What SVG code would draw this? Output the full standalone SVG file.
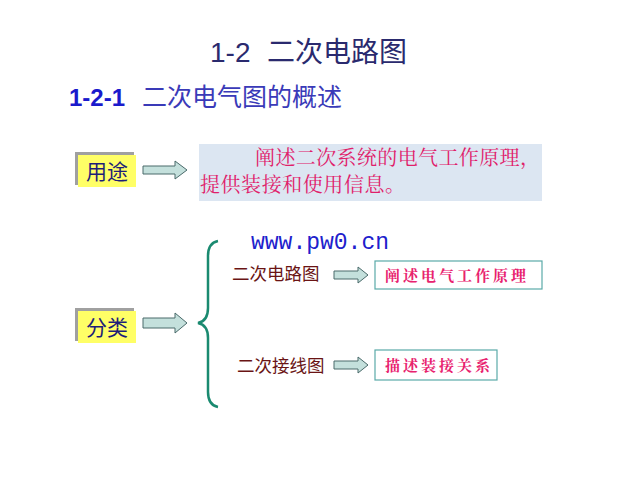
<svg xmlns="http://www.w3.org/2000/svg" width="640" height="480" viewBox="0 0 640 480">
<defs>
<style>
.cjk{font-family:"Noto Sans CJK SC","Noto Sans",sans-serif;}
.ser{font-family:"Noto Serif CJK SC","Noto Sans CJK SC",serif;}
.tag{fill:#ffff66;}
.shadow{fill:#a0a0a0;}
.arr{fill:#c4e0dc;stroke:#4a6a6a;stroke-width:1;}
.cbox{fill:#ffffff;stroke:#5aaaa8;stroke-width:1.2;}
.pink{fill:#e8226e;font-weight:bold;}
.dred{fill:#6a1414;}
</style>
</defs>
<rect width="640" height="480" fill="#ffffff"/>

<g id="title">
<text x="210" y="62" font-family="Liberation Sans,Arial,sans-serif" font-size="28" fill="#2a2a6e">1-2</text>
<text x="267" y="62" class="cjk" font-size="28" fill="#2a2a6e">二次电路图</text>
</g>
<g id="subtitle">
<text x="69" y="106" font-family="Liberation Sans,Arial,sans-serif" font-weight="bold" font-size="24" fill="#1a1acc">1-2-1</text>
<text x="142" y="106" class="cjk" font-size="25" fill="#3a3ab8">二次电气图的概述</text>
</g>

<g id="yongtu">
<rect class="shadow" x="75" y="152" width="59" height="33"/>
<rect class="tag" x="78" y="155" width="58" height="32"/>
<text x="107" y="179" class="cjk" font-size="21" fill="#1e1e78" text-anchor="middle">用途</text>
</g>

<g id="desc">
<rect x="199" y="144" width="343" height="57" fill="#dce6f2"/>
<text x="255" y="165" class="ser" font-size="20" fill="#e0206a" textLength="285" lengthAdjust="spacing">阐述二次系统的电气工作原理，</text>
<text x="200" y="192" class="ser" font-size="20" fill="#e0206a" textLength="205" lengthAdjust="spacing">提供装接和使用信息。</text>
</g>

<g id="url">
<text x="251" y="249" font-family="Liberation Mono,Courier New,monospace" font-size="23" fill="#2020cc">www.pw0.cn</text>
</g>

<g id="fenlei">
<rect class="shadow" x="75" y="308" width="59" height="33"/>
<rect class="tag" x="78" y="311" width="58" height="32"/>
<text x="107" y="335" class="cjk" font-size="21" fill="#1e1e78" text-anchor="middle">分类</text>
</g>

<g id="brace">
<path d="M218,241 Q208,243 208,256 L208,308 Q208,321 198,323 Q208,325 208,338 L208,392 Q208,405 218,407" fill="none" stroke="#1a8a70" stroke-width="2.5"/>
</g>

<g id="circuit">
<text x="232" y="280" class="cjk dred" font-size="17.5">二次电路图</text>
</g>
<g id="circuit-desc">
<rect class="cbox" x="375" y="261" width="167" height="28"/>
<text x="385" y="281" class="ser pink" font-size="15" letter-spacing="3">阐述电气工作原理</text>
</g>

<g id="wiring">
<text x="237" y="372" class="cjk dred" font-size="17.5">二次接线图</text>
</g>
<g id="wiring-desc">
<rect class="cbox" x="375" y="350" width="122" height="30"/>
<text x="385" y="371" class="ser pink" font-size="15" letter-spacing="3">描述装接关系</text>
</g>

<g id="connectors">
<path class="arr" d="M143,166 H175 V161 L187,170 L175,179 V174 H143 Z"/>
<path class="arr" d="M143,318 H175 V313 L187,323 L175,333 V328 H143 Z"/>
<path class="arr" d="M334,271 H358 V267 L368,275 L358,283 V279 H334 Z"/>
<path class="arr" d="M334,361 H358 V357 L368,365 L358,373 V369 H334 Z"/>
</g>
</svg>
